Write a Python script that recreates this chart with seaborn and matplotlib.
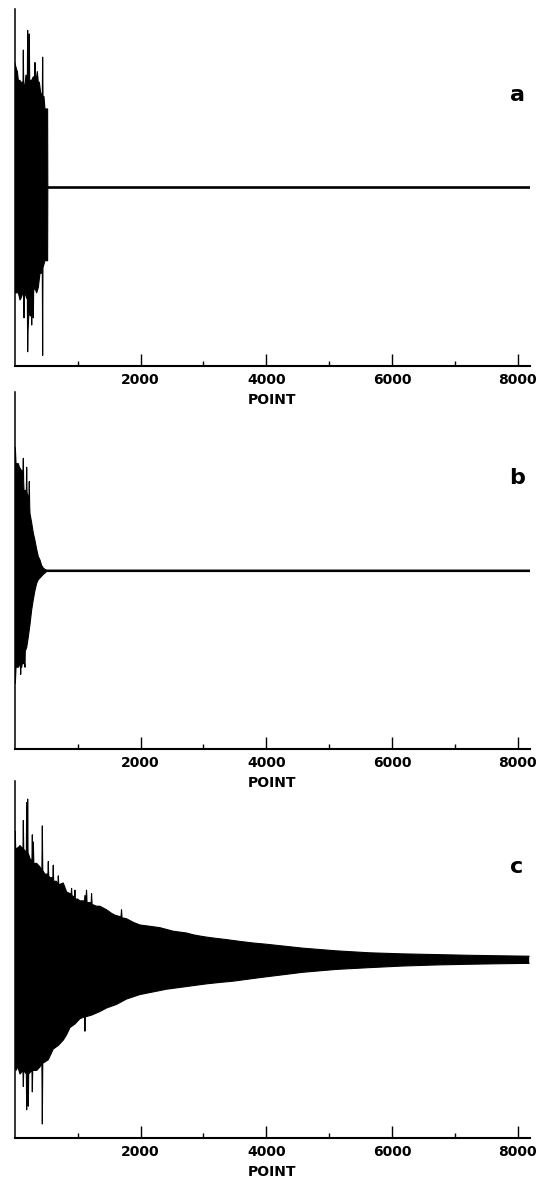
# ---------------------------------------------------
import matplotlib
matplotlib.use("Agg")
import matplotlib.pyplot as plt
import seaborn as sns

# ---------------------------------------------------
# envelopes of the three decays
# x = data point, y = amplitude in % of half the axis height
a_up_pt = [0, 31, 42, 58, 84, 95, 132, 137, 142, 148, 163, 179, 201, 206, 211,
           216, 226, 232, 238, 269, 296, 317, 322, 328, 349, 359, 375, 391,
           402, 412, 439, 444, 450, 465, 481, 523, 526, 8192]
a_up = [70, 66, 65, 60, 60, 59, 59, 77, 59, 57, 57, 63, 62, 88, 62,
        62, 62, 86, 60, 60, 62, 62, 70, 62, 62, 65, 59, 59,
        56, 53, 52, 73, 51, 51, 44, 44, 0.4, 0.4]
a_lo_pt = [0, 58, 84, 100, 143, 148, 153, 190, 201, 206, 211, 226, 250, 265,
           270, 275, 291, 296, 301, 317, 349, 375, 402, 430, 439, 444, 449,
           481, 523, 526, 8192]
a_lo = [-59, -59, -63, -62, -58, -73, -58, -62, -62, -92, -80, -70, -72, -62,
        -77, -62, -62, -73, -58, -56, -59, -56, -48, -48, -48, -94, -45,
        -41, -41, -0.4, -0.4]

b_up_pt = [0, 10, 21, 58, 74, 111, 132, 137, 142, 148, 179, 185, 190, 196,
           201, 226, 232, 238, 243, 269, 296, 322, 349, 375, 402, 428, 455,
           481, 508, 8192]
b_up = [69, 69, 60, 60, 58, 56, 56, 63, 50, 45, 45, 45, 58, 44,
        43, 40, 50, 36, 32, 27, 21, 17, 12, 8, 6, 3, 1.5,
        0.8, 0.4, 0.4]
b_lo_pt = [0, 10, 21, 58, 74, 90, 95, 100, 111, 120, 158, 163, 168, 190,
           216, 243, 269, 296, 322, 349, 375, 402, 455, 508, 8192]
b_lo = [-63, -63, -54, -54, -53, -53, -58, -52, -54, -52, -52, -54, -45, -43,
        -37, -30, -22, -16, -11, -7, -5, -4, -2, -0.4, -0.4]

c_up_pt = [0, 8, 16, 60, 84, 131, 137, 143, 185, 190, 196, 201, 206, 212,
           250, 274, 280, 286, 296, 304, 349, 402, 432, 439, 446, 480, 528,
           534, 540, 560, 607, 613, 619, 660, 687, 693, 700, 772, 825, 878,
           898, 904, 910, 951, 957, 963, 1000, 1037, 1110, 1116, 1130, 1142,
           1150, 1216, 1222, 1230, 1301, 1354, 1460, 1540, 1592, 1690, 1698,
           1706, 1777, 1883, 1989, 2095, 2201, 2306, 2412, 2518, 2624, 2730,
           2836, 2942, 3047, 3153, 3365, 3577, 3788, 4000, 4581, 5111,
           5640, 6168, 6698, 7227, 7756, 8179]
c_up = [62, 72, 62, 63, 64, 62, 78, 62, 60, 88, 62, 62, 90, 60,
        56, 56, 70, 55, 66, 54, 54, 52, 50, 75, 50, 48, 48,
        55, 47, 46, 46, 53, 44, 44, 42, 47, 42, 43, 38, 37,
        37, 40, 36, 35, 39, 34, 34, 33, 33, 36, 33, 39,
        32, 32, 37, 31, 30, 30, 28, 26, 25, 24, 28,
        23.5, 23, 21, 19.5, 19, 18.5, 18, 17, 16, 15.5, 15,
        14, 13.3, 12.7, 12.2, 11.3, 10.3, 9.4, 8.7, 6.5, 5,
        3.9, 3.3, 2.9, 2.5, 2.2, 2]
c_lo_pt = [0, 20, 50, 84, 131, 137, 143, 185, 190, 196, 210, 216, 222, 274,
           280, 286, 349, 402, 432, 439, 446, 534, 560, 613, 693, 772, 825,
           878, 957, 1037, 1110, 1116, 1122, 1222, 1354, 1460, 1619, 1777,
           1989, 2201, 2412, 2624, 2836, 3047, 3259, 3471, 3683, 3894, 4581,
           5111, 5640, 6168, 6698, 7227, 7756, 8179]
c_lo = [-58, -62, -60, -64, -62, -71, -62, -64, -84, -64, -64, -82, -64, -62,
        -74, -62, -62, -60, -58, -92, -58, -56, -54, -50, -48, -45, -42,
        -38, -36, -33, -32, -40, -32, -31, -29, -27, -25, -22,
        -19.5, -18, -16.5, -15.5, -14.5, -13.5, -12.7, -12, -11, -10, -7,
        -5.4, -4.4, -3.5, -2.9, -2.5, -2.2, -2]

panel_tags = ["a", "b", "c"]
major_ticks = [2000, 4000, 6000, 8000]
minor_ticks = [1000, 3000, 5000, 7000]
tick_labels = ["2000", "4000", "6000", "8000"]

# ---------------------------------------------------
sns.set_style("ticks", {"axes.edgecolor": "black", "text.color": "black",
                        "xtick.color": "black", "axes.labelcolor": "black"})
plt.rcParams['font.family'] = ['DejaVu Sans']

fig = plt.figure(figsize=(5.39, 11.83), dpi=100)
bottoms = [0.6906, 0.3666, 0.0378]
series = [(a_up_pt, a_up, a_lo_pt, a_lo),
          (b_up_pt, b_up, b_lo_pt, b_lo),
          (c_up_pt, c_up, c_lo_pt, c_lo)]

for tag, bottom, (up_pt, up, lo_pt, lo) in zip(panel_tags, bottoms, series):
    ax = fig.add_axes([0.0273, bottom, 0.956, 0.3018])
    ax.patch.set_alpha(0)  # panels overlap a little, keep labels visible

    # filled envelope plus its outlines
    ax.fill(up_pt + lo_pt[::-1], up + lo[::-1], color="black", lw=0)
    sns.lineplot(x=up_pt, y=up, color="black", lw=0.8, sort=False,
                 estimator=None, ax=ax)
    sns.lineplot(x=lo_pt, y=lo, color="black", lw=0.8, sort=False,
                 estimator=None, ax=ax)

    ax.set_xlim(0, 8192)
    ax.set_ylim(-100, 100)
    ax.set_yticks([])
    ax.set_ylabel("")
    ax.set_xticks(major_ticks, labels=tick_labels, fontweight="bold")
    ax.set_xticks(minor_ticks, minor=True)
    ax.tick_params(axis="x", which="major", direction="in", length=8.5,
                   width=1.0, pad=5, labelsize=10, colors="black")
    ax.tick_params(axis="x", which="minor", direction="in", length=3.5,
                   width=1.0, colors="black")
    sns.despine(ax=ax, top=True, right=True)
    ax.spines["left"].set_linewidth(1.1)
    ax.spines["bottom"].set_linewidth(1.5)

    ax.set_xlabel("POINT", fontweight="bold", fontsize=10, labelpad=4,
                  color="black")
    ax.text(0.975, 0.76, tag, transform=ax.transAxes, fontsize=16,
            fontweight="bold", ha="center", va="center", color="black")

fig.savefig("out.png", dpi=100)
